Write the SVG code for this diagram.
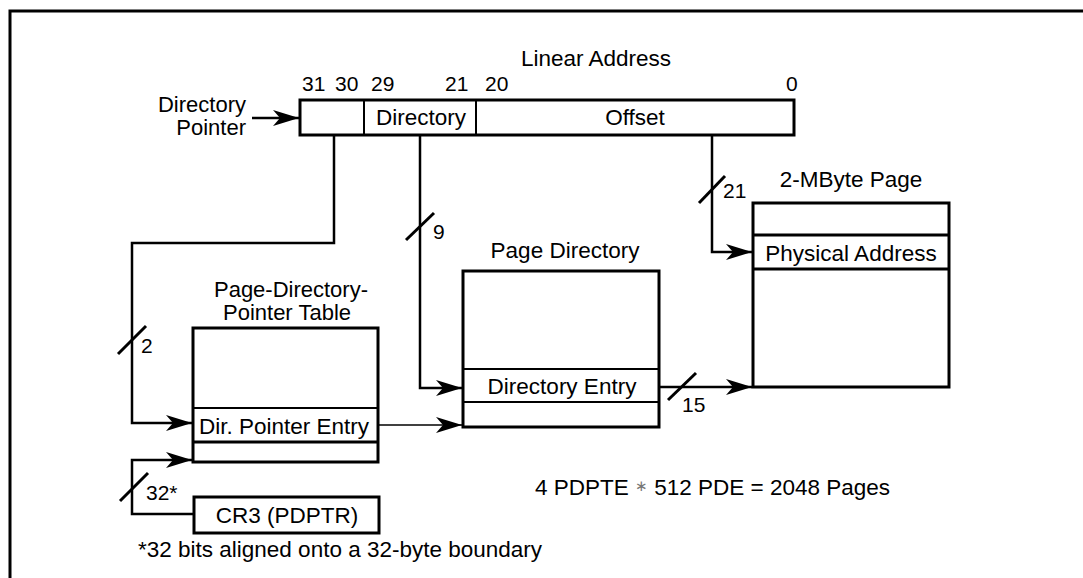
<svg xmlns="http://www.w3.org/2000/svg" width="1083" height="578" viewBox="0 0 1083 578">
<defs>
<marker id="ah" markerUnits="userSpaceOnUse" markerWidth="30" markerHeight="20" viewBox="-27 -10 30 20" refX="0" refY="0" orient="auto">
<path d="M0,0 L-26,-8 L-19,0 L-26,8 Z" fill="#000"/>
</marker>
</defs>
<style>
text{font-family:"Liberation Sans",Arial,sans-serif;font-size:22.5px;fill:#000}
.bit{font-size:21px}
.two{font-size:22px}
.box{fill:#fff;stroke:#000;stroke-width:3}
.div{stroke:#000;stroke-width:2;fill:none}
.divt{stroke:#000;stroke-width:3;fill:none}
.c{fill:none;stroke:#000;stroke-width:2.5}
.ct{fill:none;stroke:#000;stroke-width:1.5}
.sl{stroke:#000;stroke-width:3}
.m{text-anchor:middle}
.e{text-anchor:end}
</style>
<rect width="1083" height="578" fill="#fff"/>
<g id="frame">
<path d="M10,578 V11 H1083" fill="none" stroke="#000" stroke-width="3"/>
</g>
<g id="linear-address">
<text class="m" x="596" y="66">Linear Address</text>
<text class="bit" x="302" y="91">31</text>
<text class="bit" x="335" y="91">30</text>
<text class="bit" x="371" y="91">29</text>
<text class="bit" x="445" y="91">21</text>
<text class="bit" x="485" y="91">20</text>
<text class="bit" x="786" y="91">0</text>
<rect class="box" x="300" y="100" width="494" height="35"/>
<line class="div" x1="364" y1="100" x2="364" y2="135"/>
<line class="div" x1="476" y1="100" x2="476" y2="135"/>
<text class="m" x="421" y="125">Directory</text>
<text class="m" x="635" y="125">Offset</text>
</g>
<g id="directory-pointer-label">
<text class="e two" x="246" y="112">Directory</text>
<text class="e two" x="246" y="135">Pointer</text>
</g>
<g id="pdpt">
<text class="m two" x="291" y="297">Page-Directory-</text>
<text class="m two" x="287" y="320">Pointer Table</text>
<rect class="box" x="193" y="328" width="185" height="134"/>
<line class="div" x1="193" y1="408" x2="378" y2="408"/>
<line class="divt" x1="193" y1="442" x2="378" y2="442"/>
<text x="199" y="434">Dir. Pointer Entry</text>
</g>
<g id="cr3">
<rect class="box" x="194" y="497" width="185" height="36"/>
<text class="m" x="287" y="523">CR3 (PDPTR)</text>
</g>
<g id="page-directory">
<text class="m" x="565" y="258">Page Directory</text>
<rect class="box" x="463" y="271" width="196" height="156"/>
<line class="div" x1="463" y1="369" x2="659" y2="369"/>
<line class="div" x1="463" y1="402" x2="659" y2="402"/>
<text class="m" x="562" y="394">Directory Entry</text>
</g>
<g id="page-2mb">
<text class="m" x="851" y="187">2-MByte Page</text>
<rect class="box" x="753" y="203" width="196" height="184"/>
<line class="divt" x1="753" y1="235" x2="949" y2="235"/>
<line class="divt" x1="753" y1="269" x2="949" y2="269"/>
<text class="m" x="851" y="261">Physical Address</text>
</g>
<g id="connectors">
<path class="c" d="M252,118 H299" stroke-width="3" marker-end="url(#ah)"/>
<path class="c" d="M334,135 V243 H132 V423 H192" marker-end="url(#ah)"/>
<path class="c" d="M193,514 H132 V460 H192" marker-end="url(#ah)"/>
<path class="c" d="M420,135 V388 H462" stroke-width="2" marker-end="url(#ah)"/>
<path class="ct" d="M378,425 H462" marker-end="url(#ah)"/>
<path class="c" d="M659,387 H752" marker-end="url(#ah)"/>
<path class="c" d="M712,135 V252 H752" marker-end="url(#ah)"/>
<line class="sl" x1="118" y1="354" x2="146" y2="326"/>
<line class="sl" x1="406" y1="240" x2="434" y2="213"/>
<line class="sl" x1="668" y1="400" x2="696" y2="373"/>
<line class="sl" x1="120" y1="501" x2="148" y2="473"/>
<line class="sl" x1="699" y1="203" x2="725" y2="176"/>
<text class="bit" x="141" y="353">2</text>
<text class="bit" x="433" y="239">9</text>
<text class="bit" x="682" y="412">15</text>
<text class="bit" x="146" y="500">32*</text>
<text class="bit" x="723" y="198">21</text>
</g>
<g id="notes">
<text x="535" y="495">4 PDPTE <tspan font-size="15" fill="#777" dy="-4">∗</tspan><tspan dy="4"> 512 PDE = 2048 Pages</tspan></text>
<text x="138" y="557">*32 bits aligned onto a 32-byte boundary</text>
</g>
</svg>
